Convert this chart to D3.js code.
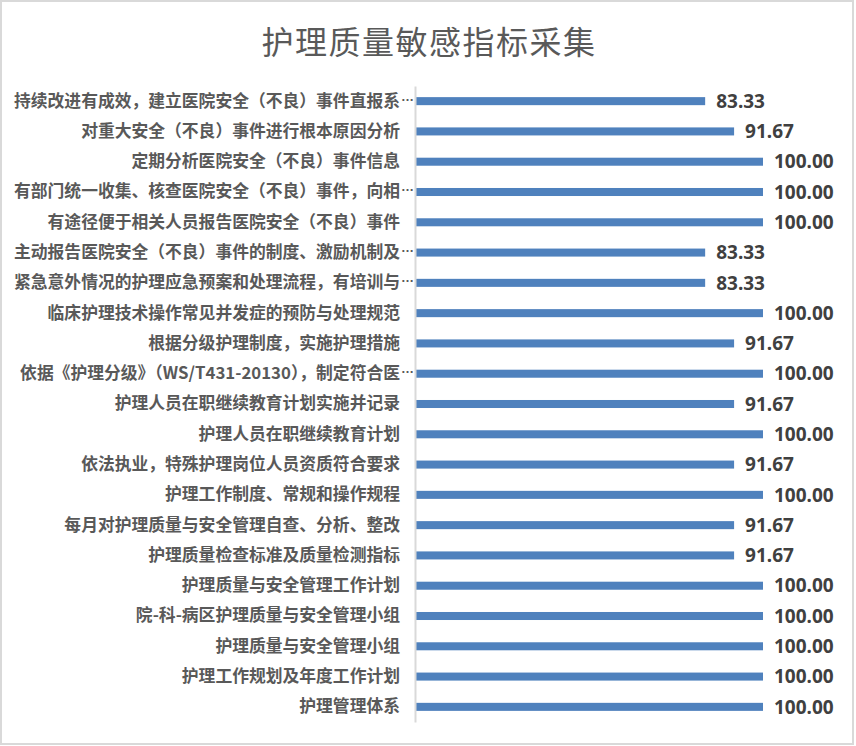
<!DOCTYPE html>
<html>
<head>
<meta charset="utf-8">
<script src="https://cdn.jsdelivr.net/npm/d3@7"></script>
<style>
  body { margin: 0; background: #fff; }
</style>
</head>
<body>
<div id="chart"></div>
<script>
// rows as they appear top to bottom
var categories = [
    "持续改进有成效，建立医院安全（不良）事件直报系…",
    "对重大安全（不良）事件进行根本原因分析",
    "定期分析医院安全（不良）事件信息",
    "有部门统一收集、核查医院安全（不良）事件，向相…",
    "有途径便于相关人员报告医院安全（不良）事件",
    "主动报告医院安全（不良）事件的制度、激励机制及…",
    "紧急意外情况的护理应急预案和处理流程，有培训与…",
    "临床护理技术操作常见并发症的预防与处理规范",
    "根据分级护理制度，实施护理措施",
    "依据《护理分级》（WS/T431-20130），制定符合医…",
    "护理人员在职继续教育计划实施并记录",
    "护理人员在职继续教育计划",
    "依法执业，特殊护理岗位人员资质符合要求",
    "护理工作制度、常规和操作规程",
    "每月对护理质量与安全管理自查、分析、整改",
    "护理质量检查标准及质量检测指标",
    "护理质量与安全管理工作计划",
    "院-科-病区护理质量与安全管理小组",
    "护理质量与安全管理小组",
    "护理工作规划及年度工作计划",
    "护理管理体系"
];
var values = [83.33, 91.67, 100, 100, 100, 83.33, 83.33, 100, 91.67, 100, 91.67,
    100, 91.67, 100, 91.67, 91.67, 100, 100, 100, 100, 100];
var title = "护理质量敏感指标采集";

var W = 856, H = 746;
var CJK = "'Noto Sans CJK SC', 'Noto Sans', sans-serif";

var svg = d3.select("#chart").append("svg")
    .attr("width", W)
    .attr("height", H);

svg.append("rect")
    .attr("x", 0).attr("y", 0)
    .attr("width", W).attr("height", H)
    .attr("fill", "#fff");

// chart frame
svg.append("rect")
    .attr("x", 1).attr("y", 1)
    .attr("width", 852).attr("height", 743)
    .attr("fill", "none")
    .attr("stroke", "#d9d9d9")
    .attr("stroke-width", 2);

svg.append("text")
    .attr("x", 429)
    .attr("y", 40)
    .attr("text-anchor", "middle")
    .attr("dominant-baseline", "central")
    .attr("font-family", CJK)
    .attr("font-size", 32)
    .attr("letter-spacing", 1.5)
    .attr("fill", "#595959")
    .text(title);

var x = d3.scaleLinear().domain([0, 100]).range([416, 763]);
var y = d3.scaleBand()
    .domain(categories)
    .range([86, 722])
    .paddingInner(0.735)
    .paddingOuter(0.3675);

var data = categories.map(function (c, i) { return { name: c, value: values[i] }; });

svg.selectAll("rect.bar")
    .data(data)
    .enter().append("rect")
    .attr("class", "bar")
    .attr("x", x(0))
    .attr("y", function (d) { return y(d.name); })
    .attr("width", function (d) { return x(d.value) - x(0); })
    .attr("height", y.bandwidth())
    .attr("fill", "#4f81bd");

// category axis, labels restyled below
var gAxis = svg.append("g")
    .attr("transform", "translate(" + 415 + ",0)")
    .call(d3.axisLeft(y).tickSize(0).tickPadding(15));

gAxis.select(".domain")
    .attr("stroke", "#d9d9d9")
    .attr("stroke-width", 2);

gAxis.selectAll(".tick text")
    .attr("font-family", CJK)
    .attr("font-size", 16.8)
    .attr("font-weight", "bold")
    .attr("fill", "#595959")
    .attr("dy", "0.32em")
    .each(function (d) {
        var t = d3.select(this);
        if (d.slice(-1) === "…") {
            t.text(d.slice(0, -1));
            d3.select(this.parentNode).append("text")
                .attr("x", -14)
                .attr("dy", "-0.05em")
                .attr("text-anchor", "start")
                .attr("font-family", "'Liberation Sans', sans-serif")
                .attr("font-weight", "bold")
                .attr("font-size", 13)
                .attr("fill", "#595959")
                .text("…");
        }
    });

svg.selectAll("text.val")
    .data(data)
    .enter().append("text")
    .attr("class", "val")
    .attr("x", function (d) { return x(d.value) + 11; })
    .attr("y", function (d) { return y(d.name) + y.bandwidth() / 2; })
    .attr("dy", "0.35em")
    .attr("font-family", "'Noto Sans', sans-serif")
    .attr("font-weight", "bold")
    .attr("font-size", 19)
    .attr("fill", "#404040")
    .text(function (d) { return d.value.toFixed(2); });
</script>
</body>
</html>
